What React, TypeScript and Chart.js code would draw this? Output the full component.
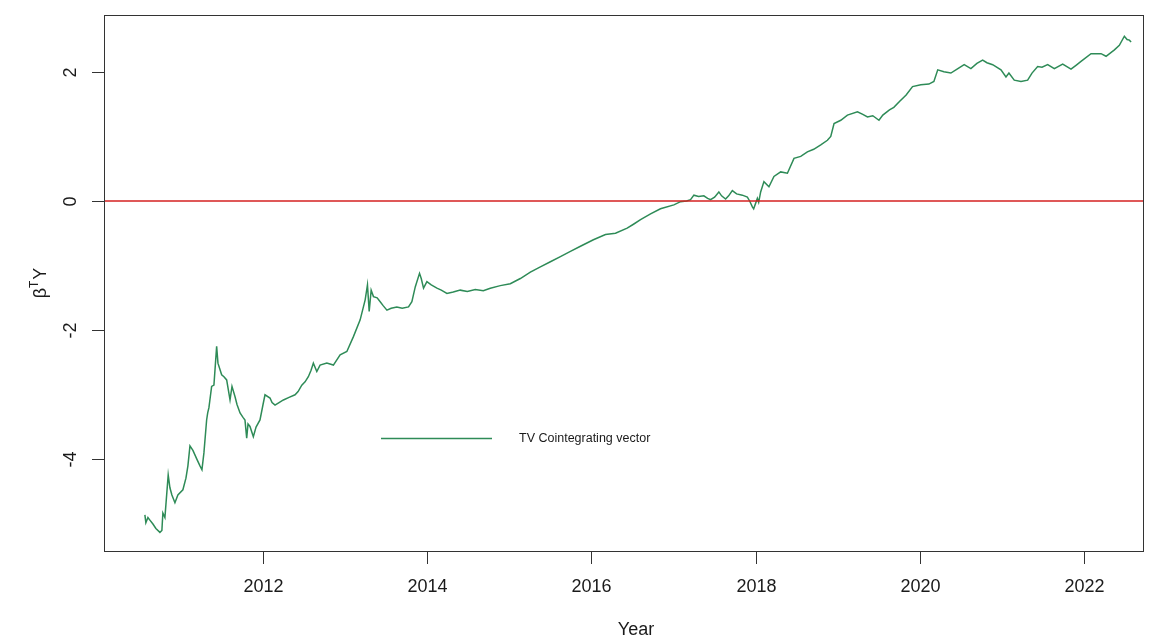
import React, { useEffect, useRef } from "react";
import { Chart, registerables } from "chart.js";

Chart.register(...registerables);

const years: number[] = [
  2010.561, 2010.573, 2010.598, 2010.622, 2010.659, 2010.695, 2010.744, 2010.768, 2010.780, 2010.805,
  2010.845, 2010.866, 2010.890, 2010.927, 2010.963, 2011.024, 2011.061, 2011.085, 2011.110, 2011.146,
  2011.195, 2011.232, 2011.256, 2011.280, 2011.313, 2011.326, 2011.341, 2011.374, 2011.402, 2011.435,
  2011.451, 2011.496, 2011.524, 2011.557, 2011.598, 2011.622, 2011.659, 2011.683, 2011.720, 2011.756,
  2011.780, 2011.801, 2011.817, 2011.841, 2011.882, 2011.915, 2011.963, 2012.000, 2012.024, 2012.085,
  2012.110, 2012.146, 2012.195, 2012.248, 2012.317, 2012.390, 2012.427, 2012.472, 2012.512, 2012.552,
  2012.585, 2012.613, 2012.655, 2012.695, 2012.777, 2012.857, 2012.939, 2013.021, 2013.101, 2013.183,
  2013.244, 2013.272, 2013.293, 2013.317, 2013.345, 2013.390, 2013.427, 2013.463, 2013.509, 2013.561,
  2013.630, 2013.695, 2013.772, 2013.813, 2013.854, 2013.906, 2013.927, 2013.955, 2013.996, 2014.049,
  2014.118, 2014.171, 2014.240, 2014.317, 2014.402, 2014.488, 2014.585, 2014.683, 2014.768, 2014.890,
  2015.012, 2015.134, 2015.256, 2015.378, 2015.500, 2015.622, 2015.744, 2015.866, 2016.024, 2016.171,
  2016.293, 2016.435, 2016.512, 2016.598, 2016.720, 2016.841, 2017.004, 2017.085, 2017.159, 2017.207,
  2017.248, 2017.305, 2017.369, 2017.415, 2017.451, 2017.500, 2017.552, 2017.585, 2017.634, 2017.671,
  2017.716, 2017.768, 2017.838, 2017.899, 2017.927, 2017.960, 2017.976, 2018.021, 2018.037, 2018.061,
  2018.101, 2018.162, 2018.223, 2018.305, 2018.387, 2018.467, 2018.549, 2018.630, 2018.707, 2018.793,
  2018.874, 2018.915, 2018.955, 2019.037, 2019.118, 2019.240, 2019.305, 2019.362, 2019.427, 2019.502,
  2019.549, 2019.630, 2019.683, 2019.752, 2019.833, 2019.911, 2020.012, 2020.110, 2020.171, 2020.218,
  2020.293, 2020.378, 2020.463, 2020.540, 2020.622, 2020.695, 2020.765, 2020.817, 2020.887, 2020.988,
  2021.049, 2021.085, 2021.150, 2021.232, 2021.313, 2021.366, 2021.435, 2021.488, 2021.557, 2021.638,
  2021.740, 2021.841, 2021.902, 2021.963, 2022.085, 2022.207, 2022.268, 2022.370, 2022.430, 2022.491,
  2022.524, 2022.552, 2022.573,
];

const values: number[] = [
  -4.86, -4.98, -4.90, -4.94, -5.00, -5.07, -5.13, -5.10, -4.83, -4.90,
  -4.24, -4.44, -4.55, -4.67, -4.55, -4.47, -4.29, -4.10, -3.79, -3.86,
  -4.00, -4.10, -4.16, -3.90, -3.39, -3.28, -3.20, -2.87, -2.85, -2.25,
  -2.51, -2.69, -2.72, -2.77, -3.08, -2.87, -3.03, -3.15, -3.28, -3.35,
  -3.39, -3.67, -3.45, -3.49, -3.65, -3.50, -3.39, -3.15, -3.00, -3.05,
  -3.12, -3.16, -3.12, -3.08, -3.04, -3.00, -2.95, -2.85, -2.80, -2.72,
  -2.62, -2.51, -2.64, -2.54, -2.51, -2.54, -2.38, -2.33, -2.10, -1.84,
  -1.53, -1.30, -1.71, -1.38, -1.48, -1.50, -1.56, -1.62, -1.69, -1.66,
  -1.64, -1.66, -1.64, -1.56, -1.33, -1.12, -1.20, -1.35, -1.25, -1.30,
  -1.35, -1.38, -1.43, -1.41, -1.38, -1.40, -1.37, -1.39, -1.35, -1.31,
  -1.28, -1.20, -1.10, -1.02, -0.94, -0.86, -0.78, -0.70, -0.60, -0.52,
  -0.50, -0.42, -0.36, -0.29, -0.20, -0.12, -0.06, -0.01, 0.00, 0.02,
  0.09, 0.07, 0.08, 0.04, 0.02, 0.06, 0.14, 0.08, 0.03, 0.08,
  0.16, 0.11, 0.09, 0.06, 0.00, -0.09, -0.12, 0.04, -0.02, 0.14,
  0.30, 0.22, 0.38, 0.45, 0.43, 0.66, 0.69, 0.76, 0.80, 0.87,
  0.94, 1.00, 1.20, 1.25, 1.33, 1.38, 1.34, 1.30, 1.32, 1.25,
  1.33, 1.41, 1.45, 1.54, 1.64, 1.77, 1.80, 1.81, 1.85, 2.03,
  2.00, 1.98, 2.05, 2.11, 2.05, 2.13, 2.18, 2.14, 2.11, 2.03,
  1.92, 1.98, 1.87, 1.85, 1.87, 1.98, 2.08, 2.07, 2.11, 2.05,
  2.12, 2.04, 2.10, 2.16, 2.28, 2.28, 2.24, 2.34, 2.41, 2.55,
  2.50, 2.49, 2.46,
];

const xTicks: number[] = [2012, 2014, 2016, 2018, 2020, 2022];
const yTicks: number[] = [-4, -2, 0, 2];
const seriesLabel = "TV Cointegrating vector";
const xTitle = "Year";

const X_MIN = 2010.063;
const X_MAX = 2022.718;
const Y_MIN = -5.418;
const Y_MAX = 2.879;

const FONT = '"Liberation Sans", Arial, sans-serif';

const framePlugin = {
  id: "rframe",
  afterDraw(chart: any) {
    const { ctx, chartArea, scales } = chart;
    const { left, right, top, bottom } = chartArea;
    const xs = scales.x;
    const ys = scales.y;
    ctx.save();
    ctx.strokeStyle = "#333333";
    ctx.lineWidth = 1;
    ctx.strokeRect(Math.round(left) + 0.5, Math.round(top) + 0.5, Math.round(right - left), Math.round(bottom - top));

    ctx.fillStyle = "#1a1a1a";
    ctx.font = `18px ${FONT}`;
    ctx.textAlign = "center";
    ctx.textBaseline = "middle";
    xTicks.forEach((t) => {
      const px = Math.round(xs.getPixelForValue(t)) + 0.5;
      ctx.beginPath();
      ctx.moveTo(px, Math.round(bottom) + 0.5);
      ctx.lineTo(px, Math.round(bottom) + 13);
      ctx.stroke();
      ctx.fillText(String(t), px, bottom + 36);
    });
    yTicks.forEach((t) => {
      const py = Math.round(ys.getPixelForValue(t)) + 0.5;
      ctx.beginPath();
      ctx.moveTo(Math.round(left), py);
      ctx.lineTo(Math.round(left) - 12, py);
      ctx.stroke();
      ctx.save();
      ctx.translate(left - 33, py);
      ctx.rotate(-Math.PI / 2);
      ctx.fillText(String(t), 0, 0);
      ctx.restore();
    });
    ctx.fillText(xTitle, 636, bottom + 79);

    ctx.save();
    ctx.translate(40, (top + bottom) / 2);
    ctx.rotate(-Math.PI / 2);
    ctx.textAlign = "left";
    ctx.textBaseline = "alphabetic";
    const bigFont = `18px ${FONT}`;
    const smallFont = `12px ${FONT}`;
    ctx.font = bigFont;
    const wB = ctx.measureText("β").width;
    const wY = ctx.measureText("Y").width;
    ctx.font = smallFont;
    const wT = ctx.measureText("T").width;
    const total = wB + wT + wY + 1;
    let cx = -total / 2;
    ctx.font = bigFont;
    ctx.fillText("β", cx, 6);
    cx += wB;
    ctx.font = smallFont;
    ctx.fillText("T", cx, -2);
    cx += wT + 1;
    ctx.font = bigFont;
    ctx.fillText("Y", cx, 6);
    ctx.restore();

    const ly = 438.5;
    ctx.strokeStyle = "#2e8b57";
    ctx.lineWidth = 1.3;
    ctx.beginPath();
    ctx.moveTo(381, ly);
    ctx.lineTo(492, ly);
    ctx.stroke();
    ctx.font = `12.5px ${FONT}`;
    ctx.textAlign = "left";
    ctx.textBaseline = "middle";
    ctx.fillStyle = "#1a1a1a";
    ctx.fillText(seriesLabel, 519, ly);
    ctx.restore();
  },
};

export default function App() {
  const ref = useRef<HTMLCanvasElement | null>(null);
  useEffect(() => {
    document.body.style.margin = "0";
    const canvas = ref.current;
    if (!canvas) return;
    const chart = new Chart(canvas, {
      type: "line",
      data: {
        datasets: [
          {
            label: "zero",
            data: [
              { x: X_MIN, y: 0 },
              { x: X_MAX, y: 0 },
            ],
            borderColor: "#d42020",
            borderWidth: 1.6,
            pointRadius: 0,
          },
          {
            label: seriesLabel,
            data: years.map((x, i) => ({ x, y: values[i] })),
            borderColor: "#2e8b57",
            borderWidth: 1.5,
            pointRadius: 0,
            tension: 0,
          },
        ],
      },
      options: {
        animation: false,
        responsive: false,
        maintainAspectRatio: false,
        devicePixelRatio: 1,
        layout: { padding: { left: 104, right: 13, top: 15, bottom: 86 } },
        scales: {
          x: { type: "linear", min: X_MIN, max: X_MAX, display: false },
          y: { type: "linear", min: Y_MIN, max: Y_MAX, display: false },
        },
        plugins: {
          legend: { display: false },
          tooltip: { enabled: false },
        },
      },
      plugins: [framePlugin],
    });
    return () => chart.destroy();
  }, []);
  return (
    <div style={{ width: 1156, height: 637, background: "#fff" }}>
      <canvas ref={ref} width={1156} height={637} style={{ display: "block" }} />
    </div>
  );
}
